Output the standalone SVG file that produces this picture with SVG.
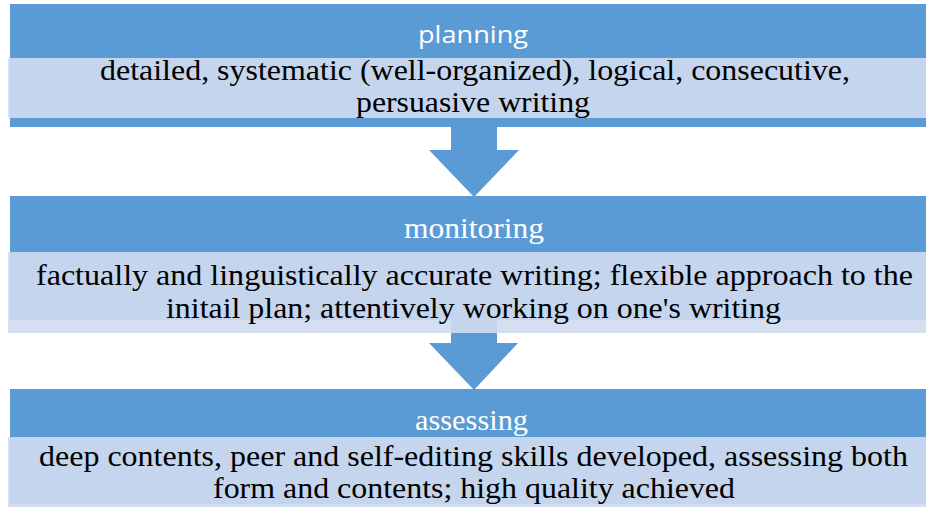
<svg xmlns="http://www.w3.org/2000/svg" width="926" height="508" viewBox="0 0 926 508">
  <style>
    .dark { fill: #5b9bd5; }
    .light { fill: #cfdcef; fill-opacity: 0.9; }
    .arrow { fill: #5b9bd5; }
    .hs { font-family: "Open Sans", "Liberation Sans", Arial, sans-serif; font-size: 24px; fill: #ffffff; }
    .hr { font-family: "Liberation Serif", "Times New Roman", Times, Tinos, "Noto Serif", "DejaVu Serif", FreeSerif, serif; font-size: 29px; fill: #ffffff; }
    .tx { font-family: "Liberation Serif", "Times New Roman", Times, Tinos, "Noto Serif", "DejaVu Serif", FreeSerif, serif; font-size: 29px; fill: #000000; }
  </style>
  <rect width="926" height="508" fill="#ffffff"/>

  <g id="planning-bg"><rect class="dark" x="10" y="4" width="916" height="123"/></g>
  <g id="monitoring-bg"><rect class="dark" x="10" y="196" width="916" height="124"/></g>
  <g id="assessing-bg"><rect class="dark" x="10" y="389" width="916" height="115"/></g>

  <g id="connectors">
    <polygon class="arrow" points="451,120 497,120 497,150 519,150 474,197 429,150 451,150"/>
    <polygon class="arrow" points="451,318 497,318 497,343 518,343 474,390 429,343 451,343"/>
  </g>

  <g id="planning">
    <rect class="light" x="8" y="58" width="918" height="60"/>
    <text class="hs" x="418" y="43" textLength="110" lengthAdjust="spacingAndGlyphs">planning</text>
    <text class="tx" x="100" y="80" textLength="750" lengthAdjust="spacingAndGlyphs">detailed, systematic (well-organized), logical, consecutive,</text>
    <text class="tx" x="356" y="112" textLength="234" lengthAdjust="spacingAndGlyphs">persuasive writing</text>
  </g>

  <g id="monitoring">
    <rect class="light" x="8" y="252" width="918" height="81"/>
    <text class="hr" x="404" y="238" textLength="140" lengthAdjust="spacingAndGlyphs">monitoring</text>
    <text class="tx" x="36" y="285" textLength="877" lengthAdjust="spacingAndGlyphs">factually and linguistically accurate writing; flexible approach to the</text>
    <text class="tx" x="166" y="318" textLength="615" lengthAdjust="spacingAndGlyphs">initail plan; attentively working on one's writing</text>
  </g>

  <g id="assessing">
    <rect class="light" x="8" y="437" width="918" height="70"/>
    <text class="hr" x="415" y="430" textLength="113" lengthAdjust="spacingAndGlyphs">assessing</text>
    <text class="tx" x="39" y="466" textLength="869" lengthAdjust="spacingAndGlyphs">deep contents, peer and self-editing skills developed, assessing both</text>
    <text class="tx" x="213" y="498" textLength="522" lengthAdjust="spacingAndGlyphs">form and contents; high quality achieved</text>
  </g>
</svg>
